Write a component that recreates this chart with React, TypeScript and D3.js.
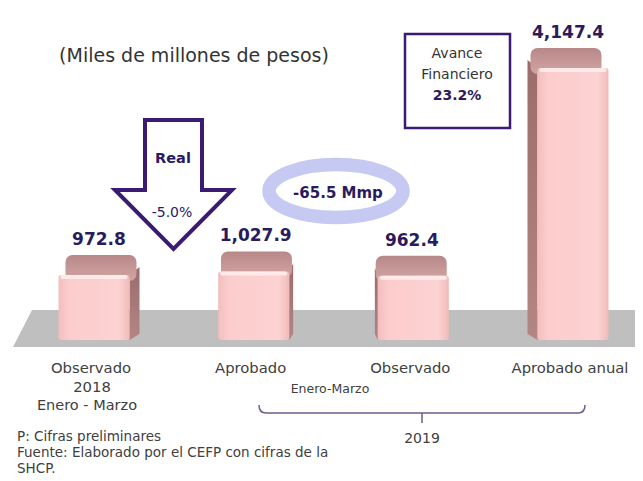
import React from "react";
import * as d3 from "d3";

// Valores (miles de millones de pesos)
const categories = ["Observado", "Aprobado", "Observado", "Aprobado anual"];
const values = [972.8, 1027.9, 962.4, 4147.4];
const sideDepth = [10, 4, -3, -10]; // perspective side of each bar
const subLabels = ["2018", "", "", ""];
const footnotes = [
  "P: Cifras preliminares",
  "Fuente: Elaborado por el CEFP con cifras de la",
  "SHCP.",
];

const width = 643;
const height = 481;
const floorTop = 310;
const barBottom = 340;
const barW = 71;

const FONT = "'DejaVu Sans', sans-serif";
const PURPLE = "#2b1a5c";
const GRAY_TEXT = "#404040";

export default function App() {
  const x = d3.scalePoint<number>().domain(d3.range(values.length)).range([94, 573]);
  const y = d3.scaleLinear().domain([0, d3.max(values) as number]).range([318.5, 48]);
  const fmt = d3.format(",.1f");

  const floor = d3.line()([
    [32, floorTop],
    [635, floorTop],
    [652, 347],
    [13, 347],
  ]) + "Z";

  const arrow = d3.line()([
    [145, 120],
    [202, 120],
    [202, 190],
    [232, 190],
    [173.5, 249],
    [115, 190],
    [145, 190],
  ]) + "Z";

  return (
    <div style={{ margin: -8 }}>
      <svg width={width} height={height} style={{ display: "block", background: "#fff" }}>
        <defs>
          <linearGradient id="front" x1="0" x2="1" y1="0" y2="0">
            <stop offset="0" stopColor="#f3bdbd" />
            <stop offset="0.15" stopColor="#fccdcd" />
            <stop offset="0.85" stopColor="#fdd2d2" />
            <stop offset="1" stopColor="#f0baba" />
          </linearGradient>
          <linearGradient id="topf" x1="0" x2="0" y1="0" y2="1">
            <stop offset="0" stopColor="#b88888" />
            <stop offset="1" stopColor="#d2a5a5" />
          </linearGradient>
          <linearGradient id="side" x1="0" x2="0" y1="0" y2="1">
            <stop offset="0" stopColor="#9c6c6c" />
            <stop offset="1" stopColor="#b38585" />
          </linearGradient>
        </defs>

        {/* title */}
        <text x={194} y={62} textAnchor="middle" fontFamily={FONT} fontSize={19} fill="#333">
          (Miles de millones de pesos)
        </text>

        {/* floor */}
        <path d={floor} fill="#bfbfbf" />

        {/* bars */}
        {values.map((v, i) => {
          const cx = x(i) as number;
          const x0 = cx - barW / 2;
          const t = y(v);
          const s = sideDepth[i];
          const edge = s > 0 ? x0 + barW : x0;
          const sidePts = d3.line()([
            [edge, t + 20],
            [edge + s, t + 12],
            [edge + s, barBottom - 6],
            [edge, barBottom],
          ]) + "Z";
          return (
            <g key={i}>
              <path d={sidePts} fill="url(#side)" />
              <rect x={x0 + s * 0.7} y={t} width={barW} height={26} rx={7} fill="url(#topf)" />
              <rect x={x0} y={t + 20} width={barW} height={barBottom - t - 20} rx={3} fill="url(#front)" />
              <rect x={x0 + 2} y={t + 20} width={barW - 4} height={4} rx={2} fill="#ffeaea" />
              <text x={cx + s * 0.5} y={t - 10} textAnchor="middle" fontFamily={FONT} fontWeight="bold" fontSize={17} fill={PURPLE}>
                {fmt(v)}
              </text>
            </g>
          );
        })}

        {/* category labels */}
        {categories.map((c, i) => (
          <g key={c + i} fontFamily={FONT} fontSize={14.8} fill={GRAY_TEXT} textAnchor="middle">
            <text x={(x(i) as number) - 3} y={373}>{c}</text>
            {subLabels[i] && <text x={(x(i) as number) - 2} y={392}>{subLabels[i]}</text>}
          </g>
        ))}
        <text x={87} y={410} textAnchor="middle" fontFamily={FONT} fontSize={14.5} fill={GRAY_TEXT}>Enero - Marzo</text>
        <text x={330} y={393} textAnchor="middle" fontFamily={FONT} fontSize={12.5} fill={GRAY_TEXT}>Enero-Marzo</text>

        {/* 2019 bracket */}
        <path d="M259,405 Q259,413 266,413 H578 Q585,413 585,405" fill="none" stroke="#6e5c8c" strokeWidth={1.5} />
        <path d="M422,413 V423" stroke="#6e5c8c" strokeWidth={1.5} />
        <text x={422} y={443} textAnchor="middle" fontFamily={FONT} fontSize={14} fill={GRAY_TEXT}>2019</text>

        {/* footnotes */}
        {footnotes.map((f, i) => (
          <text key={i} x={17} y={441 + i * 16} fontFamily={FONT} fontSize={13.5} fill={GRAY_TEXT}>{f}</text>
        ))}

        {/* real change arrow */}
        <path d={arrow} fill="#fff" stroke="#3a1a72" strokeWidth={4} strokeLinejoin="miter" />
        <text x={173} y={163} textAnchor="middle" fontFamily={FONT} fontWeight="bold" fontSize={14.5} fill={PURPLE}>Real</text>
        <text x={172} y={217} textAnchor="middle" fontFamily={FONT} fontSize={14} fill={PURPLE}>-5.0%</text>

        {/* difference ellipse */}
        <ellipse cx={336} cy={191} rx={67} ry={26.5} fill="none" stroke="#c6c9f1" strokeWidth={13.5} />
        <text x={338} y={198} textAnchor="middle" fontFamily={FONT} fontWeight="bold" fontSize={15} fill={PURPLE}>-65.5 Mmp</text>

        {/* avance box */}
        <rect x={405} y={34} width={105} height={94} fill="#fff" stroke="#3a1a72" strokeWidth={2.5} />
        <g fontFamily={FONT} textAnchor="middle" fontSize={14}>
          <text x={457} y={58} fill="#333">Avance</text>
          <text x={457} y={79} fill="#333">Financiero</text>
          <text x={457} y={100} fill={PURPLE} fontWeight="bold">23.2%</text>
        </g>
      </svg>
    </div>
  );
}
